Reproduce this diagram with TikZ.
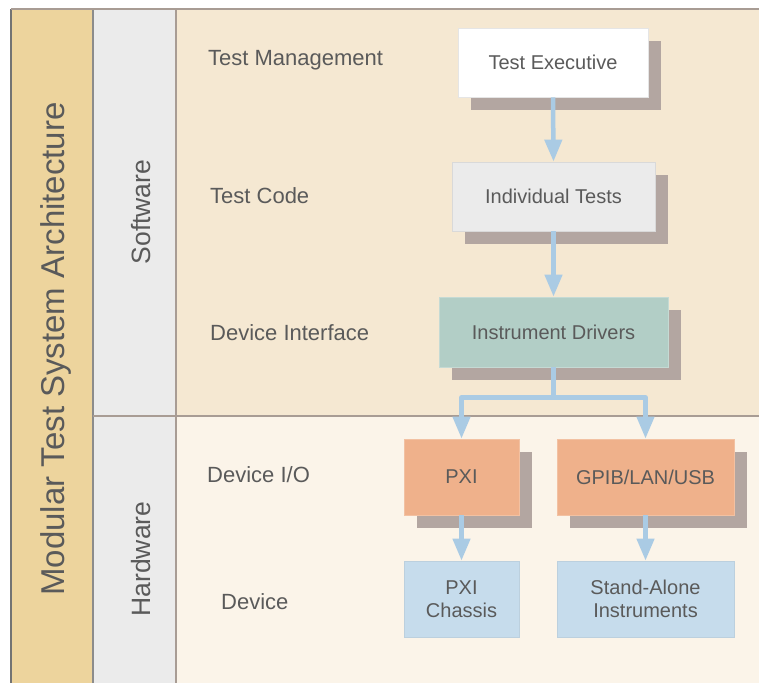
\documentclass[tikz,border=0pt]{standalone}
\usepackage{fontspec}
\setmainfont{Liberation Sans}
\usetikzlibrary{arrows.meta,shadows}
\definecolor{txt}{HTML}{5A5A5A}
\definecolor{colA}{HTML}{EDD49D}
\definecolor{colB}{HTML}{EBEBEB}
\definecolor{swbg}{HTML}{F5E8D2}
\definecolor{hwbg}{HTML}{FBF4E9}
\definecolor{lineC}{HTML}{A89C94}
\definecolor{shadowC}{HTML}{B3A6A1}
\definecolor{arrowC}{HTML}{AACBE4}
\definecolor{whiteBox}{HTML}{FFFFFF}
\definecolor{grayBox}{HTML}{EBEBEB}
\definecolor{tealBox}{HTML}{B2CEC6}
\definecolor{orangeBox}{HTML}{EFB18B}
\definecolor{blueBox}{HTML}{C6DCEC}
\definecolor{blueEdge}{HTML}{BCD0DE}
\tikzset{
  boxbase/.style={rectangle, inner sep=0pt, text=txt, align=center,
    font=\fontsize{20}{23}\selectfont, line width=0.8pt},
  shadowed/.style={drop shadow={shadow xshift=13pt, shadow yshift=-13pt, fill=shadowC, opacity=1}},
  lbl/.style={anchor=west, inner sep=0pt, text=txt, font=\fontsize{22}{25}\selectfont},
  flow/.style={draw=arrowC, line width=4.5pt, -{Triangle[width=17pt,length=22pt]}},
  vlabel/.style={rotate=90, inner sep=0pt, text=txt},
}
\begin{document}
\begin{tikzpicture}[x=1pt,y=-1pt]
\useasboundingbox (0,0) rectangle (759,683);
% backgrounds
\fill[colA] (11,9) rectangle (93,683);
\fill[colB] (93,9) rectangle (176,683);
\fill[swbg] (176,9) rectangle (759,416);
\fill[hwbg] (176,416) rectangle (759,683);
% lines
\draw[draw=black!55, line width=1.5pt] (11,9) -- (11,683);
\draw[draw=black!45, line width=1.2pt] (93,9) -- (93,683);
\draw[draw=lineC, line width=1.5pt] (176,9) -- (176,683);
\draw[draw=lineC, line width=2pt] (11,9) -- (759,9);
\draw[draw=lineC, line width=2pt] (93,416) -- (759,416);
% side titles
\node[vlabel, font=\fontsize{33}{38}\selectfont] (title) at (56,349) {Modular Test System Architecture};
\node[vlabel, font=\fontsize{26.5}{30}\selectfont] (sw) at (141,212) {Software};
\node[vlabel, font=\fontsize{26.5}{30}\selectfont] (hw) at (141,559) {Hardware};
% row labels
\node[lbl] (l1) at (208,60) {Test Management};
\node[lbl] (l2) at (210,196) {Test Code};
\node[lbl] (l3) at (210,333) {Device Interface};
\node[lbl] (l4) at (207,475) {Device I/O};
\node[lbl] (l5) at (221,602) {Device};
% boxes
\node[boxbase, shadowed, fill=whiteBox, draw=black!10, minimum width=190pt, minimum height=69pt] (te) at (553,62.5) {Test Executive};
\node[boxbase, shadowed, fill=grayBox, draw=black!15, minimum width=203pt, minimum height=69pt] (it) at (553.5,196.5) {Individual Tests};
\node[boxbase, shadowed, fill=tealBox, draw=tealBox!75!white, minimum width=229pt, minimum height=70pt] (id) at (553.5,332) {Instrument Drivers};
\node[boxbase, shadowed, fill=orangeBox, draw=orangeBox!80!white, minimum width=115pt, minimum height=76pt] (pxi) at (461.5,477) {PXI};
\node[boxbase, shadowed, fill=orangeBox, draw=orangeBox!80!white, minimum width=177pt, minimum height=76pt] (gpib) at (645.5,477) {GPIB/LAN/USB};
\node[boxbase, fill=blueBox, draw=blueEdge, minimum width=115pt, minimum height=76pt] (pc) at (461.5,599) {PXI\\Chassis};
\node[boxbase, fill=blueBox, draw=blueEdge, minimum width=177pt, minimum height=76pt] (sa) at (645.5,599) {Stand-Alone\\Instruments};
% connectors
\draw[flow] (te.south) -- (it.north);
\draw[flow] (it.south) -- (id.north);
\coordinate (split) at ([yshift=-30pt]id.south);
\draw[flow, line join=round] (id.south) -- (split) -| (pxi.north);
\draw[flow, line join=round] (id.south) -- (split) -| (gpib.north);
\draw[flow] (pxi.south) -- (pc.north);
\draw[flow] (gpib.south) -- (sa.north);
\end{tikzpicture}
\end{document}
